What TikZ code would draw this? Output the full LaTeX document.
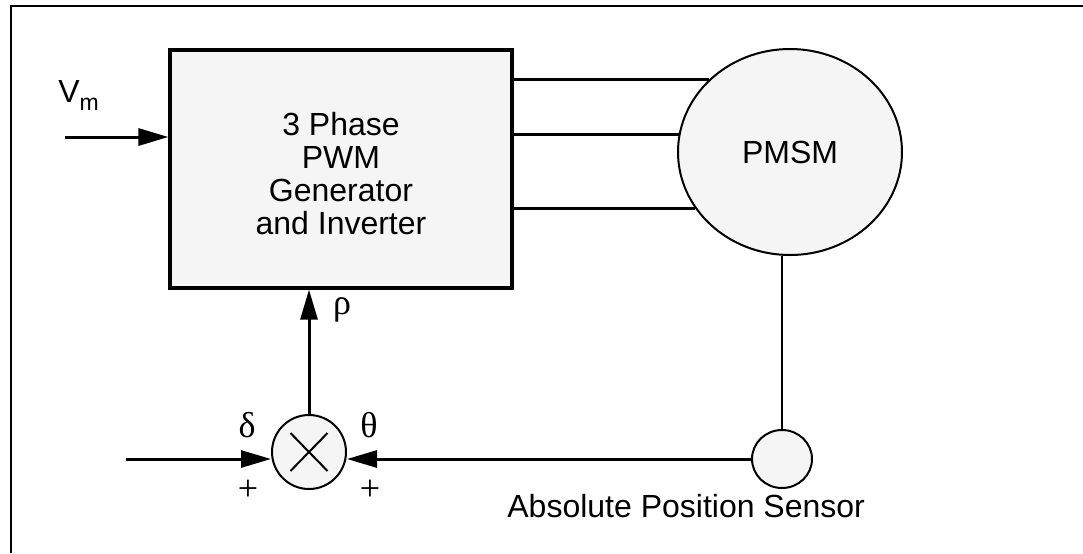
\documentclass[tikz,border=0pt]{standalone}
\usepackage{fontspec}
\setmainfont{Liberation Sans}
\newfontfamily\serifgr{Liberation Serif}
\usetikzlibrary{arrows.meta,shapes.geometric}
\definecolor{fillg}{HTML}{F5F5F5}
\tikzset{
  blockbox/.style={draw,line width=1.6pt,fill=fillg,minimum width=171pt,minimum height=119pt,inner sep=0pt},
  motor/.style={ellipse,draw,line width=1pt,fill=fillg,minimum width=112pt,minimum height=103pt,
    inner sep=0pt,font=\fontsize{16}{16.5}\selectfont},
  sensorc/.style={ellipse,draw,line width=1pt,fill=fillg,minimum width=30pt,minimum height=29pt,inner sep=0pt},
  sumc/.style={circle,draw,line width=1pt,fill=fillg,minimum size=37pt,inner sep=0pt},
  arr/.style={line width=1.5pt,-{Triangle[length=15pt,width=8.5pt]}},
  wire/.style={line width=1.5pt},
  thinwire/.style={line width=1pt},
  lbl/.style={font=\fontsize{16}{16.5}\selectfont,inner sep=0pt},
  grk/.style={font=\fontsize{18}{18}\serifgr\selectfont,inner sep=0pt}
}
\begin{document}
\begin{tikzpicture}[x=0.5pt,y=-0.5pt]
\useasboundingbox (0,0) rectangle (1083,553);
% frame
\draw[line width=1.2pt] (11,553) -- (11,6) -- (1083,6);
% blocks
\node[blockbox] (box) at (341,169) {};
\node[lbl,align=center] (boxtext) at ([yshift=-2.5pt]box.center) {3 Phase\\PWM\\Generator\\and Inverter};
\node[motor] (pmsm) at (790,152) {PMSM};
\node[sensorc] (sensor) at (782,459) {};
\node[sumc] (sum) at (309,452) {};
\draw[line width=1pt] ([shift={(-18.5,-19)}]sum.center) -- ([shift={(18.5,19)}]sum.center);
\draw[line width=1pt] ([shift={(-18.5,19)}]sum.center) -- ([shift={(18.5,-19)}]sum.center);
% Vm input
\coordinate (vin) at (65,137);
\draw[arr] (vin) -- (vin -| box.west);
\node[lbl,anchor=base west] (vm) at (58,102) {V\raisebox{-4pt}{\fontsize{11.5}{12}\selectfont m}};
% three phase wires
\draw[wire] (pmsm.138) -- (pmsm.138 -| box.east);
\draw[wire] (pmsm.171.8) -- (pmsm.171.8 -| box.east);
\draw[wire] (pmsm.211.5) -- (pmsm.211.5 -| box.east);
% sensor link
\draw[thinwire] (sensor.north) -- (sensor.north |- pmsm.south);
% feedback
\draw[arr] (sensor.west) -- (sensor.west -| sum.east);
\coordinate (din) at (126,459);
\draw[arr] (din) -- (din -| sum.west);
\draw[arr] (sum.north) -- (sum.north |- box.south);
% labels
\node[grk] (rho) at (342,310) {ρ};
\node[grk] (delta) at (247,425) {δ};
\node[grk] (theta) at (369,425) {θ};
\node[grk] (p1) at (248,490) {+};
\node[grk] (p2) at (370,490) {+};
\node[lbl,anchor=base west] (sname) at (507,517) {Absolute Position Sensor};
\end{tikzpicture}
\end{document}
